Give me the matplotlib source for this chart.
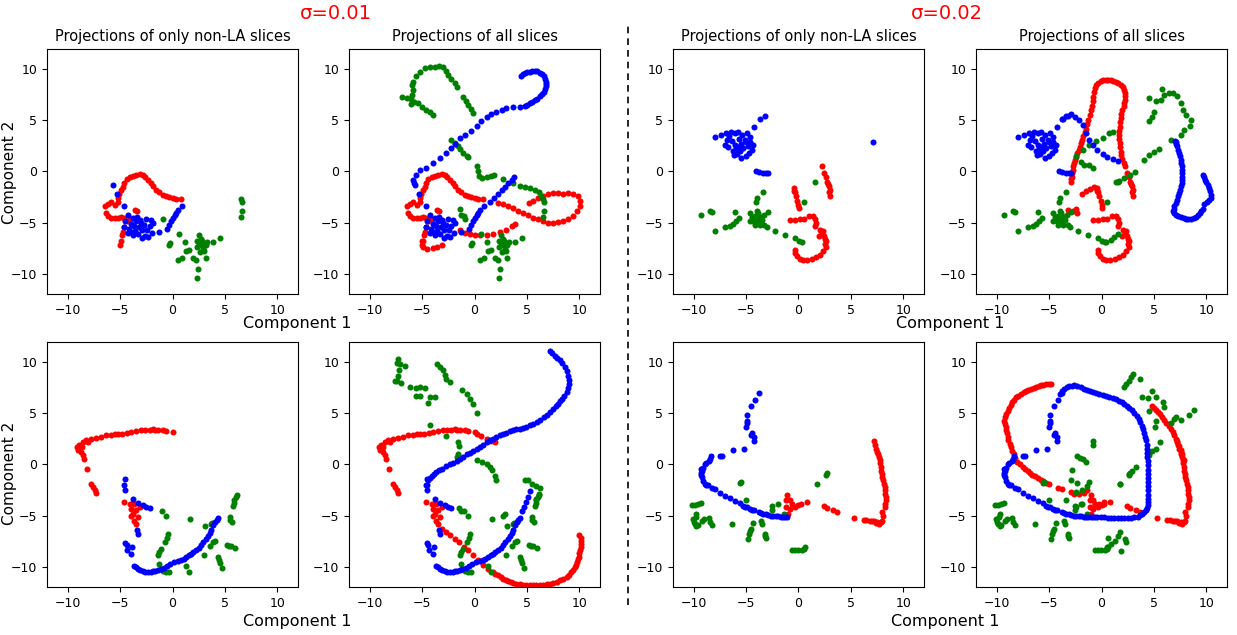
import numpy as np
import matplotlib
matplotlib.use('Agg')
import matplotlib.pyplot as plt
from matplotlib.lines import Line2D

# ---- sigma = 0.01, top row : non-LA slices ----
a_red = [(-5.0,-7.2),(-4.9,-6.8),(-4.8,-6.2),(-4.75,-5.9),(-4.6,-5.4),(-4.4,-4.9),(-4.1,-4.7),(-4.6,-4.6),
         (-4.9,-4.5),(-5.2,-4.6),(-5.5,-4.6),(-5.9,-4.6),(-6.2,-4.4),(-6.4,-4.1),(-6.5,-3.4),(-6.2,-3.2),
         (-5.9,-3.0),(-5.5,-3.3),(-5.2,-3.0),(-5.2,-2.6),(-5.1,-2.2),(-4.9,-1.8),(-4.75,-1.5),(-4.6,-1.1),
         (-4.4,-0.75),(-4.1,-0.55),(-3.8,-0.4),(-3.5,-0.3),(-3.15,-0.25),(-2.85,-0.35),(-2.6,-0.55),
         (-2.35,-0.8),(-2.1,-1.15),(-1.9,-1.45),(-1.55,-1.8),(-1.25,-2.05),(-0.9,-2.3),(-0.6,-2.45),
         (-0.3,-2.5),(0.0,-2.6),(0.35,-2.65),(0.8,-2.7),(-3.6,-3.8),(-3.4,-3.9)]
a_blue = [(-5.65,-1.3),(-5.3,-2.2),(-4.6,-3.4),(-4.3,-4.25),(-4.6,-5.4),(-4.5,-4.9),(-4.2,-5.6),(-4.0,-5.1),
          (-3.8,-4.6),(-3.7,-5.3),(-3.6,-5.8),(-3.5,-4.9),(-3.3,-6.1),(-3.2,-5.4),(-3.1,-4.8),(-2.9,-5.7),
          (-2.7,-5.2),(-2.6,-6.3),(-2.55,-4.7),(-2.4,-5.7),(-2.2,-5.3),(-2.1,-4.8),(-2.0,-6.0),(-1.85,-5.0),
          (-4.3,-6.0),(-3.8,-6.2),(-3.4,-4.5),(-2.9,-6.5),(-2.3,-6.4),(-3.0,-5.0),(-4.0,-5.9),
          (-1.25,-5.9),(-0.5,-5.65),(-0.3,-5.2),(-0.15,-4.9),(0.05,-4.55),(0.2,-4.25),(0.35,-4.1),
          (0.5,-3.75),(0.9,-3.4)]
a_green = [(-0.9,-4.65),(-0.3,-7.2),(-0.25,-7.0),(0.65,-6.1),(0.5,-8.65),(0.9,-8.5),(1.2,-6.95),(1.3,-7.8),
           (1.6,-7.65),(1.95,-8.5),(2.2,-8.7),(2.45,-9.6),(2.35,-10.4),(2.5,-6.2),(2.3,-6.85),(2.55,-7.0),
           (2.7,-7.2),(2.9,-7.6),(3.0,-7.75),(3.15,-7.2),(3.3,-6.95),(2.7,-6.6),(2.35,-7.4),(2.8,-6.8),
           (3.15,-8.5),(3.85,-6.95),(4.5,-6.5),(6.55,-2.65),(6.65,-2.95),(6.6,-3.85),(6.5,-4.5),
           (2.6,-7.9),(2.9,-7.0)]

# ---- sigma = 0.01, top row : extra LA slices ----
b_red = [(-1.4,-5.7),(-0.9,-6.05),(-0.45,-6.1),(0.05,-6.2),(0.5,-6.2),(1.15,-6.2),(1.8,-6.1),(2.4,-5.95),
         (3.05,-5.7),(3.55,-5.3),(3.85,-5.1),(-5.05,-6.85),(-4.9,-7.35),(-4.5,-7.55),(-4.0,-7.5),
         (-3.55,-7.4),(-3.15,-7.25),(2.25,-3.05),(2.75,-3.15),(3.2,-3.35),(3.7,-3.6),(4.15,-3.85),
         (4.65,-4.05),(5.1,-4.3),(5.6,-4.55),(6.1,-4.7),(6.55,-4.9),(7.05,-5.0),(7.5,-5.0),(8.0,-4.95),
         (8.45,-4.9),(8.95,-4.65),(9.45,-4.35),(9.8,-3.9),(10.05,-3.4),(10.1,-2.9),(9.9,-2.45),
         (9.45,-2.2),(8.95,-2.1),(8.45,-2.2),(8.0,-2.1),(7.5,-2.1),(7.05,-2.2),(6.55,-2.4),(6.1,-2.6),
         (5.6,-2.85),(5.2,-3.05)]
b_blue = [(-5.8,-1.15),(-5.85,-0.8),(-5.6,-0.35),(-5.2,0.1),(-4.65,0.35),(-3.95,0.8),(-3.3,1.3),
          (-2.75,1.8),(-2.25,2.3),(-1.9,2.7),(-1.4,3.25),(-0.9,3.6),(-0.35,4.0),(0.2,4.45),(0.65,4.9),
          (1.15,5.3),(1.6,5.6),(2.1,5.85),(2.6,6.05),(3.05,6.2),(3.7,6.35),(4.35,6.35),(4.8,6.4),
          (5.0,6.5),(5.3,6.7),(5.5,6.8),(5.75,6.95),(6.0,7.1),(6.25,7.35),(6.45,7.55),(6.6,7.8),
          (6.75,8.1),(6.8,8.35),(6.85,8.6),(6.8,8.8),(6.75,9.05),(6.6,9.3),(6.45,9.5),(6.25,9.65),
          (6.0,9.8),(5.75,9.85),(5.5,9.85),(5.3,9.75),(5.05,9.7),(4.8,9.6),(4.6,9.5),(4.45,9.35),
          (1.45,-2.95),(1.85,-2.6),(2.25,-2.2),(2.6,-1.85),(2.9,-1.55),(3.2,-1.15),(3.55,-0.8),(3.75,-0.55)]
b_green = [(-6.9,7.25),(-6.5,7.15),(-6.1,7.05),(-6.1,6.6),(-5.8,6.8),(-5.4,6.7),(-5.0,6.35),(-4.65,6.05),
           (-4.25,5.85),(-4.0,5.55),(-6.0,7.5),(-5.85,8.0),(-6.0,8.45),(-5.85,8.8),(-5.55,9.3),(-5.2,9.75),
           (-4.75,10.1),(-4.25,10.2),(-3.8,10.25),(-3.4,10.3),(-3.0,10.25),(-2.75,9.85),(-2.5,9.45),
           (-2.2,9.1),(-1.9,8.65),(-1.65,8.25),(-1.1,7.25),(-0.85,6.85),(-0.6,6.5),(-0.35,6.1),(-0.15,5.75),
           (-2.2,3.1),(-1.9,2.75),(-1.55,2.45),(-1.35,2.2),(-1.1,1.85),(-0.75,1.55),(-0.6,1.4),(0.2,0.5),
           (0.35,0.0),(0.45,-0.4),(0.75,-0.65),(1.15,-0.55),(1.6,-0.4),(1.85,-0.35),(2.75,-0.75),
           (3.7,-1.15),(4.35,-1.4),(4.8,-1.55),(5.3,-1.65),(5.75,-1.8),(6.2,-2.05),(6.4,-2.45),
           (-1.4,-3.7),(-1.25,-4.25),(-1.0,-4.4)]

# ---- sigma = 0.02, top row : non-LA slices ----
c_red = [(2.2,0.5),(2.45,-0.15),(2.6,-0.55),(2.75,-1.0),(2.9,-1.4),(3.0,-1.8),(3.05,-2.4),(2.85,-1.2),
         (2.95,-2.0),(-0.4,-1.65),(-0.35,-2.05),(-0.2,-2.45),(-0.1,-2.85),(0.0,-3.25),(0.05,-3.6),
         (-0.4,-1.9),(-0.85,-4.8),(-0.35,-4.8),(0.15,-4.7),(0.55,-4.65),(1.0,-4.35),(1.4,-4.35),
         (1.55,-4.7),(1.7,-5.0),(1.55,-5.35),(2.05,-5.7),(2.2,-6.0),(2.45,-6.35),(2.6,-6.85),(2.6,-7.35),
         (2.35,-7.8),(2.05,-8.15),(1.7,-8.4),(1.3,-8.55),(0.85,-8.7),(0.45,-8.7),(0.15,-8.55),
         (-0.15,-8.3),(-0.3,-8.0),(-0.35,-7.65),(1.95,-6.35),(2.3,-5.8),(2.5,-6.6),(2.55,-7.1)]
c_blue = [(-8.0,3.35),(-7.45,3.55),(-6.9,3.75),(-6.45,3.9),(-6.05,3.8),(-5.75,3.85),(-5.4,3.6),
          (-4.95,3.75),(-4.65,3.35),(-4.25,4.35),(-3.65,5.1),(-3.2,5.45),(-4.35,2.6),(-4.45,2.1),
          (-4.7,1.8),(-5.0,1.55),(-5.45,1.3),(-5.9,1.7),(-6.3,2.0),(-6.7,2.4),(-7.05,2.6),(-6.8,3.1),
          (-6.4,2.95),(-6.1,2.6),(-5.8,2.4),(-5.5,2.7),(-5.15,3.1),(-4.85,2.5),(-6.0,2.2),(-5.6,2.0),
          (-5.3,2.3),(-5.7,3.2),(-6.6,3.5),(-5.0,2.9),(-6.2,1.6),(-4.6,2.9),(7.15,2.85),
          (-4.1,0.0),(-3.8,-0.1),(-3.4,-0.15),(-3.1,-0.15),(-2.9,-0.15)]
c_green = [(-9.3,-4.25),(-8.45,-3.9),(-8.25,-3.95),(-8.0,-5.85),(-7.05,-5.45),(-6.55,-5.3),(-6.25,-5.1),
           (-6.0,-4.9),(-5.7,-4.55),(-6.1,-3.95),(-4.1,-2.95),(-4.0,-2.6),(-3.4,-2.05),(1.55,-1.0),
           (0.55,-2.95),(-0.35,-6.5),(0.05,-6.8),(0.3,-6.95),(-1.3,-6.2),(-2.25,-5.8),(-3.0,-5.45),
           (-2.95,-3.95),(-4.6,-4.1),(-4.45,-4.5),(-4.3,-4.9),(-4.15,-4.4),(-4.0,-4.8),(-3.85,-4.05),
           (-3.8,-5.05),(-3.6,-4.45),(-3.45,-4.75),(-3.3,-4.3),(-3.25,-5.2),(-3.7,-5.2),(-4.2,-5.2),
           (-4.6,-4.85),(-4.0,-3.9),(-3.9,-4.6)]

# ---- sigma = 0.02, top row : extra LA slices ----
d_red = [(-2.95,-1.05),(-2.9,-0.75),(-2.85,-0.5),(-2.8,-0.2),(-2.75,0.15),(-2.7,0.5),(-2.6,0.8),(-2.5,1.1),
         (-2.45,1.45),(-2.35,1.8),(-2.2,2.1),(-2.05,2.4),(-1.95,2.75),(-1.85,3.1),(-1.75,3.5),(-1.6,3.85),
         (-1.5,4.2),(-1.35,4.6),(-1.25,5.05),(-1.1,5.5),(-1.0,6.0),(-0.95,6.4),(-0.85,6.85),(-0.8,7.3),
         (-0.7,7.8),(-0.6,8.2),(-0.5,8.45),(-0.3,8.7),(-0.05,8.9),(0.15,8.95),(0.4,9.0),(0.65,9.0),
         (0.9,8.95),(1.1,8.9),(1.35,8.8),(1.6,8.65),(1.85,8.45),(2.05,8.25),(2.15,8.0),(2.25,7.7),
         (2.25,7.35),(2.2,7.0),(2.15,6.7),(2.1,6.4),(2.0,6.05),(1.9,5.6),(1.85,5.2),(1.8,4.8),(1.75,4.4),
         (1.7,4.0),(1.7,3.6),(1.7,3.2),(1.75,2.75),(1.8,2.35),(1.85,1.95),(1.9,1.6),(2.0,1.2),(2.1,0.85),
         (-1.9,-2.2),(-1.5,-1.95),(-1.1,-1.75),(-0.7,-1.5),(-3.25,-3.75),(-2.45,-3.7),(-2.3,-4.05),
         (-2.75,-3.9)]
d_blue = [(-3.75,5.1),(-3.35,5.45),(-2.95,5.65),(-2.5,5.35),(-2.15,5.05),(-1.8,4.55),(-1.5,3.8),(-1.2,3.1),
          (-0.85,2.6),(-0.4,2.1),(0.1,1.75),(0.55,1.45),(1.05,1.2),(1.55,1.0),
          (7.05,2.95),(7.15,2.7),(7.25,2.45),(7.35,2.1),(7.4,1.8),(7.5,1.5),(7.55,1.15),(7.6,0.8),
          (7.65,0.5),(7.7,0.15),(7.7,-0.15),(7.7,-0.5),(7.7,-0.8),(7.65,-1.1),(7.6,-1.45),(7.5,-1.8),
          (7.4,-2.1),(7.35,-2.45),(7.25,-2.75),(7.1,-3.1),(6.95,-3.4),(6.9,-3.65),(6.85,-3.9),(6.95,-4.1),
          (7.1,-4.25),(7.35,-4.4),(7.6,-4.5),(7.85,-4.6),(8.05,-4.65),(8.3,-4.7),(8.55,-4.65),(8.8,-4.55),
          (9.0,-4.45),(9.2,-4.25),(9.4,-4.05),(9.5,-3.9),(9.65,-3.7),(9.8,-3.15),(10.05,-2.95),
          (10.3,-2.8),(10.45,-2.6),(10.45,-2.3),(10.35,-1.95),(10.25,-1.6),(10.15,-1.3),(10.0,-1.05),
          (9.9,-0.8),(9.8,-0.55),(9.65,-0.35)]
d_green = [(4.55,7.15),(5.2,6.85),(5.65,7.0),(6.0,7.5),(5.75,8.05),(6.45,7.65),(6.85,7.65),(7.25,7.35),
           (7.6,6.7),(7.8,6.05),(8.1,5.55),(8.55,5.05),(8.45,4.45),(7.9,4.05),(7.6,3.6),(6.6,3.1),
           (5.5,2.2),(5.05,1.95),(4.55,1.65),(4.1,1.15),(3.2,-0.1),(2.75,-0.35),(2.15,-0.65),(1.7,-0.9),
           (1.35,-1.0),(4.85,5.35),(4.55,4.9),(5.0,5.85),(1.05,3.9),(0.75,3.75),(0.1,3.25),(-0.55,2.95),
           (-1.2,2.6),(-1.8,2.1),(-2.45,1.55),(-1.95,0.9),(-1.65,0.65),(-1.2,0.65),(-0.85,0.35),
           (0.4,-6.95),(0.9,-6.7),(1.2,-6.4),(1.55,-6.1)]

# ---- sigma = 0.01, bottom row : non-LA slices ----
e_red = [(0.0,3.15),(-0.6,3.25),(-0.9,3.35),(-1.4,3.4),(-1.65,3.4),(-1.9,3.45),(-2.2,3.4),(-2.6,3.4),
         (-3.0,3.35),(-3.45,3.25),(-3.95,3.15),(-4.35,3.1),(-4.8,3.0),(-5.2,2.95),(-5.5,2.95),(-5.85,2.9),
         (-6.35,2.85),(-6.8,2.7),(-7.3,2.6),(-7.75,2.5),(-8.1,2.2),(-8.3,2.4),(-8.55,2.2),(-8.95,1.95),
         (-9.15,1.75),(-8.7,1.7),(-8.9,1.55),(-9.0,1.4),(-8.75,1.2),(-8.55,0.9),(-8.45,0.5),(-8.15,-0.45),
         (-7.75,-1.9),(-7.6,-2.2),(-7.45,-2.55),(-7.3,-2.8),
         (-4.6,-3.7),(-4.1,-3.85),(-3.65,-3.85),(-3.95,-4.35),(-3.45,-4.45),(-3.15,-4.2),(-3.8,-4.85),
         (-3.3,-5.1),(-3.65,-5.5),(-3.95,-5.0),(-3.45,-5.8)]
e_blue = [(-4.5,-1.45),(-4.6,-2.05),(-4.55,-2.55),(-3.8,-3.35),(-3.3,-3.75),(-2.85,-4.0),(-2.5,-4.2),
          (-2.2,-4.25),(-3.4,-6.45),(-3.3,-6.8),(-4.5,-7.7),(-4.4,-7.9),(-4.35,-8.35),(-3.85,-8.05),
          (-3.95,-8.75),(-3.65,-9.9),(-3.5,-10.05),(-3.3,-10.2),(-3.1,-10.35),(-2.85,-10.45),(-2.6,-10.5),
          (-2.35,-10.55),(-2.1,-10.5),(-1.9,-10.45),(-1.65,-10.4),(-1.4,-10.3),(-1.15,-10.25),
          (-0.85,-10.15),(-0.5,-9.9),(-0.2,-9.7),(0.15,-9.6),(0.5,-9.5),(0.8,-9.35),(1.05,-9.25),
          (1.3,-9.1),(1.55,-8.9),(1.8,-8.75),(2.0,-8.6),(2.25,-8.4),(2.5,-8.15),(2.75,-7.9),(2.95,-7.6),
          (3.2,-7.3),(3.4,-7.05),(3.55,-6.75),(3.7,-6.45),(3.9,-5.95),(4.1,-5.65),(4.2,-5.45),(4.35,-5.25)]
e_green = [(-1.0,-4.55),(-0.6,-5.05),(-0.4,-6.85),(-0.5,-7.2),(-0.75,-7.6),(-1.1,-8.25),(-1.3,-8.6),
           (-1.4,-8.9),(-1.3,-9.7),(-0.9,-10.45),(-0.6,-10.5),(-0.35,-10.55),(1.3,-9.9),(1.55,-10.55),
           (1.7,-5.3),(3.1,-6.05),(3.05,-8.9),(3.55,-7.95),(3.9,-7.6),(4.1,-7.5),(3.65,-5.85),(3.8,-5.7),
           (4.35,-9.05),(4.45,-9.35),(4.55,-9.65),(4.75,-10.15),(5.2,-7.85),(5.4,-7.95),(5.6,-8.0),
           (6.0,-8.2),(5.45,-5.15),(5.5,-5.4),(5.7,-5.65),(5.75,-4.1),(5.85,-3.75),(5.9,-3.45),
           (6.05,-3.2),(6.15,-2.95)]

# ---- sigma = 0.01, bottom row : extra LA slices ----
f_red = [(-3.15,-6.3),(-2.75,-6.6),(-2.35,-6.95),(-1.9,-7.3),(-1.45,-7.6),(-1.0,-8.1),(-0.6,-8.4),
         (-0.15,-8.9),(0.35,-9.4),(0.85,-9.8),(1.3,-10.2),(1.8,-10.55),(2.0,-10.7),(2.25,-10.85),
         (2.5,-11.0),(2.75,-11.2),(3.0,-11.3),(3.2,-11.4),(3.45,-11.5),(3.7,-11.6),(4.0,-11.7),
         (4.35,-11.75),(4.65,-11.8),(4.95,-11.85),(5.3,-11.85),(5.6,-11.85),(5.9,-11.85),(6.25,-11.85),
         (6.55,-11.8),(6.9,-11.75),(7.2,-11.7),(7.5,-11.6),(7.85,-11.5),(8.15,-11.35),(8.5,-11.2),
         (8.8,-11.05),(9.05,-10.8),(9.25,-10.55),(9.45,-10.3),(9.6,-10.05),(9.7,-9.8),(9.8,-9.55),
         (9.9,-9.3),(9.95,-9.05),(10.0,-8.7),(10.05,-8.4),(10.15,-8.1),(10.2,-7.8),(10.2,-7.5),
         (10.15,-7.2),(10.0,-6.9),(0.2,2.95),(0.65,2.75),(1.15,2.5),(1.6,2.3),(1.95,2.2)]
f_blue = [(-4.5,-2.05),(-4.45,-1.5),(-4.3,-1.3),(-4.1,-1.1),(-3.9,-0.9),(-3.65,-0.75),(-3.4,-0.55),
          (-3.15,-0.4),(-2.7,-0.2),(-2.35,0.0),(-2.05,0.15),(-1.7,0.35),(-1.4,0.55),(-1.1,0.75),
          (-0.75,1.0),(-0.45,1.15),(-0.15,1.35),(0.2,1.55),(0.5,1.75),(0.8,1.95),(1.15,2.2),(1.5,2.35),
          (1.8,2.5),(2.1,2.7),(2.4,2.85),(2.75,3.0),(3.05,3.1),(3.4,3.25),(3.7,3.35),(4.0,3.45),(4.35,3.5),
          (4.65,3.6),(4.95,3.7),(5.3,3.85),(5.6,4.0),(5.95,4.15),(6.25,4.35),(6.6,4.6),(6.9,4.85),
          (7.2,5.15),(7.5,5.45),(7.75,5.7),(8.0,5.95),(8.2,6.2),(8.4,6.45),(8.6,6.75),(8.8,7.1),
          (8.95,7.5),(9.05,7.9),(9.05,8.3),(8.95,8.7),(8.8,9.15),(8.65,9.55),(8.4,9.9),(8.15,10.2),
          (7.9,10.45),(7.7,10.65),(7.45,10.9),(7.25,11.1),
          (4.5,-4.6),(4.7,-4.2),(4.9,-3.7),(5.15,-3.2),(5.35,-2.6)]
f_green = [(-7.3,10.35),(-7.45,9.9),(-7.15,9.8),(-6.65,9.6),(-7.2,9.2),(-7.3,8.7),(-7.6,8.2),(-7.45,8.15),
           (-7.0,7.95),(-6.2,7.55),(-5.6,7.5),(-5.2,7.55),(-4.75,7.5),(-5.55,6.75),(-5.2,6.75),(-4.45,6.05),
           (-4.25,6.65),(-3.8,6.6),(-3.55,9.8),(-3.3,9.55),(-3.0,9.2),(-2.85,8.8),(-2.7,8.4),(-2.35,8.1),
           (-1.15,7.3),(-0.75,6.9),(-0.45,6.45),(-0.15,5.95),(0.2,5.05),(-4.25,3.9),(-2.7,2.75),
           (-1.55,2.2),(-1.45,1.85),(-1.7,0.7),(-1.6,1.0),(0.2,0.45),(0.75,0.25),(1.15,0.0),(1.45,-0.25),
           (1.7,-0.5),(1.95,-1.1),(2.05,-1.5),(4.8,-1.5),(5.1,-1.55),(5.45,-1.9),(5.9,-2.15),(6.25,-2.3),
           (6.2,-2.85),(5.9,-3.35),(2.75,-5.0),(2.9,-4.85),(-1.45,-4.25),(-1.25,-4.55)]

# ---- sigma = 0.02, bottom row : non-LA slices ----
g_red = [(-1.05,-2.95),(-1.15,-3.5),(-0.85,-3.5),(-0.65,-3.85),(-1.15,-4.2),(-0.85,-4.35),(-0.35,-4.2),
         (0.0,-4.0),(0.2,-3.85),(0.85,-3.7),(-1.0,-4.85),(2.45,-4.1),(2.75,-4.25),(3.3,-4.45),(3.65,-4.65),
         (5.3,-5.25),(6.25,-5.4),(6.5,-5.45),(6.8,-5.5),(7.05,-5.5),(7.25,-5.55),(7.45,-5.75),(7.55,-5.6),
         (7.7,-5.8),(7.85,-5.65),(7.95,-5.5),(8.1,-5.0),(7.95,-4.65),(8.25,-4.2),(8.3,-3.85),(8.35,-3.5),
         (8.35,-3.2),(8.3,-2.85),(8.3,-2.5),(8.25,-2.2),(8.2,-1.9),(8.1,-1.55),(8.0,-1.2),(7.95,-0.9),
         (7.9,-0.6),(7.85,-0.25),(7.8,0.1),(7.75,0.4),(7.7,0.7),(7.6,1.0),(7.55,1.25),(7.45,1.55),
         (7.35,1.9),(7.2,2.3)]
g_blue = [(-3.8,7.0),(-4.15,6.35),(-4.5,5.75),(-4.9,4.85),(-4.95,4.3),(-4.95,4.1),(-5.05,3.7),(-4.45,3.05),
          (-4.5,2.9),(-4.25,2.7),(-4.25,2.3),(-5.2,1.55),(-6.3,1.45),(-7.5,0.8),(-7.35,0.8),(-8.4,0.8),
          (-8.5,0.55),(-8.6,0.35),(-8.8,0.15),(-8.9,0.0),(-9.1,-0.3),(-9.3,-0.45),(-9.25,-0.6),
          (-9.35,-0.85),(-9.35,-1.05),(-9.25,-1.25),(-9.15,-1.65),(-8.95,-1.9),(-8.8,-2.0),(-8.65,-2.05),
          (-8.25,-2.3),(-8.0,-2.45),(-7.5,-2.8),(-7.05,-3.1),(-6.55,-3.3),(-6.1,-3.6),(-5.6,-3.8),
          (-5.3,-4.05),(-5.1,-4.15),(-4.95,-4.2),(-4.65,-4.35),(-4.45,-4.45),(-4.25,-4.5),(-3.8,-4.65),
          (-3.6,-4.75),(-3.4,-4.85),(-3.15,-4.9),(-2.9,-4.95),(-2.65,-5.0),(-2.4,-5.0),(-2.15,-5.05),
          (-1.95,-5.05),(-1.7,-5.1),(-1.45,-5.1),(-1.25,-5.1),(-1.05,-5.1)]
g_green = [(-10.2,-4.0),(-9.9,-4.0),(-9.6,-3.9),(-9.35,-3.8),(-9.75,-4.85),(-9.8,-5.1),(-10.05,-5.3),
           (-10.0,-5.6),(-9.9,-5.8),(-9.75,-6.0),(-9.6,-5.95),(-9.25,-5.5),(-9.0,-5.3),(-8.55,-5.2),
           (-8.45,-5.65),(-8.3,-5.95),(-6.4,-5.85),(-5.55,-1.85),(-5.5,-1.75),(-5.05,-3.5),(-4.35,-5.75),
           (-4.5,-6.3),(-4.65,-6.55),(-4.75,-6.8),(-4.85,-7.3),(-3.6,-5.55),(-3.45,-5.85),(-3.2,-6.8),
           (-3.2,-7.0),(-3.15,-7.2),(-2.5,-4.1),(-2.5,-4.45),(-1.95,-3.9),(-1.4,-4.85),(-0.65,-8.4),
           (-0.35,-8.4),(-0.05,-8.4),(0.3,-8.35),(0.55,-8.25),(0.6,-8.1),(1.8,-1.95),(2.65,-1.0),(2.75,-0.85)]

# ---- sigma = 0.02, bottom row : extra LA slices ----
h_red = [(-4.85,7.9),(-5.05,7.9),(-5.3,7.85),(-5.55,7.8),(-5.8,7.75),(-6.0,7.65),(-6.25,7.55),(-6.5,7.5),
         (-6.75,7.4),(-7.0,7.3),(-7.25,7.2),(-7.45,7.05),(-7.7,6.9),(-7.95,6.75),(-8.2,6.6),(-8.4,6.35),
         (-8.55,6.1),(-8.7,5.85),(-8.8,5.55),(-8.95,5.25),(-9.1,4.95),(-9.2,4.6),(-9.3,4.3),(-9.25,4.0),
         (-9.15,3.7),(-9.1,3.35),(-9.05,3.05),(-8.95,2.7),(-8.9,2.4),(-8.75,2.05),(-8.65,1.7),(-8.55,1.35),
         (-8.4,1.0),(-8.25,0.6),(-8.05,0.25),(-7.8,0.0),(-7.55,-0.25),(-7.3,-0.45),(-7.05,-0.65),
         (-6.85,-0.8),(-6.6,-1.0),(-6.35,-1.15),(-6.1,-1.3),(-5.8,-1.5),(-5.55,-1.65),(-5.3,-1.8),
         (-5.0,-1.95),(-4.2,-2.3),(-3.75,-2.45),(-2.95,-2.7),(-2.6,-2.85),(-2.15,-2.85),(-1.65,-2.8),
         (-1.35,-2.55),(-0.6,-3.9),(-0.2,-3.9),(0.25,-3.7),
         (4.8,5.7),(5.0,5.5),(5.2,5.35),(5.4,5.15),(5.55,4.95),(5.8,4.65),(6.0,4.35),(6.2,4.1),(6.4,3.8),
         (6.6,3.5),(6.8,3.15),(6.95,2.85),(7.1,2.5),(7.25,2.2),(7.4,1.85),(7.55,1.45),(7.7,1.05),(7.9,0.4)]
h_blue = [(-4.0,6.9),(-3.8,7.2),(-3.55,7.4),(-3.3,7.55),(-3.1,7.65),(-2.85,7.7),(-2.6,7.75),(-2.3,7.65),
          (-1.95,7.55),(-1.65,7.4),(-1.35,7.25),(-1.1,7.15),(-0.85,7.1),(-0.5,6.95),(-0.2,6.85),(0.1,6.8),
          (0.4,6.75),(0.75,6.65),(1.05,6.55),(1.4,6.4),(1.7,6.25),(1.95,6.1),(2.15,5.95),(2.4,5.75),
          (2.65,5.55),(2.9,5.3),(3.1,5.0),(3.35,4.75),(3.55,4.45),(3.7,4.15),(3.85,3.8),(4.0,3.45),
          (4.1,3.05),(4.2,2.7),(4.25,2.35),(4.3,1.95),(4.3,1.55),(4.35,1.1),(4.35,0.7),(4.4,0.3),
          (4.4,-0.1),(4.45,-0.5),(4.45,-0.9),(4.45,-1.3),(4.45,-1.75),(4.45,-2.15),(4.45,-2.55),
          (4.45,-2.95),(4.45,-3.35),(4.45,-3.7),(4.4,-4.0),(4.35,-4.25),(4.25,-4.5),(4.1,-4.7),
          (3.9,-4.85),(3.7,-4.95),(3.45,-5.1),(3.1,-5.15),(2.8,-5.2),(2.5,-5.25),(2.15,-5.25),
          (1.85,-5.25),(1.55,-5.25),(1.2,-5.2),(0.9,-5.2),(0.6,-5.2),(0.25,-5.15),(-0.1,-5.15),
          (-0.4,-5.15),(-0.6,-5.1),(-0.85,-5.1)]
h_green = [(2.15,7.55),(2.3,7.9),(2.6,8.2),(2.8,8.55),(3.05,8.85),(3.65,8.4),(3.85,6.6),(4.4,6.55),
           (4.85,7.2),(5.2,6.6),(5.9,6.1),(6.0,5.6),(4.55,5.2),(5.25,4.25),(5.15,3.65),(6.6,4.05),
           (6.95,4.45),(7.15,4.6),(7.6,4.35),(8.85,5.35),(8.4,4.8),(5.55,2.2),(5.2,1.55),(4.8,1.3),
           (4.55,0.9),(3.3,-0.25),(2.95,-0.6),(2.65,-0.9),(1.75,-1.95),(-0.8,2.3),(-0.85,1.95),
           (-2.3,0.8),(-2.05,0.65),(-1.8,0.55),(-1.45,0.25),(-2.85,-0.5),(-2.95,-1.55),(-2.3,-1.85),
           (-1.2,-1.75),(-1.35,-2.1),(-1.9,-2.5),(-2.45,-2.7),(-3.4,-3.5),(-1.9,-3.9),(-2.45,-4.2),
           (1.8,-6.6),(1.6,-7.05),(1.3,-7.5),(0.9,-7.75),(0.65,-7.2),(0.5,-8.1),(1.85,-8.5),(2.2,-7.3),
           (2.35,-7.6)]

titles = ['Projections of only non-LA slices', 'Projections of all slices']
sigmas = ['\u03c3=0.01', '\u03c3=0.02']

fig = plt.figure(figsize=(12.37, 6.35), dpi=100)

lefts = [0.038, 0.2821, 0.544, 0.789]
bottoms = [0.537, 0.0756]
w, h = 0.203, 0.386

# (non-LA, LA extras) per block: row, half
blocks = {
    (0, 0): ((a_red, a_green, a_blue), (b_red, b_green, b_blue)),
    (0, 1): ((c_red, c_green, c_blue), (d_red, d_green, d_blue)),
    (1, 0): ((e_red, e_green, e_blue), (f_red, f_green, f_blue)),
    (1, 1): ((g_red, g_green, g_blue), (h_red, h_green, h_blue)),
}
colors = ['red', 'green', 'blue']


def draw(ax, series):
    for col, pts in zip(colors, series):
        arr = np.array(pts)
        ax.scatter(arr[:, 0], arr[:, 1], s=19, c=col, linewidths=0)
    ax.set_xlim(-12, 12)
    ax.set_ylim(-12, 12)
    ax.set_xticks([-10, -5, 0, 5, 10])
    ax.set_yticks([-10, -5, 0, 5, 10])
    ax.tick_params(labelsize=9)


for (row, half), (base, extra) in blocks.items():
    ax1 = fig.add_axes([lefts[2 * half], bottoms[row], w, h])
    draw(ax1, base)
    ax2 = fig.add_axes([lefts[2 * half + 1], bottoms[row], w, h])
    draw(ax2, [b + e for b, e in zip(base, extra)])
    if row == 0:
        ax1.set_title(titles[0], fontsize=10.5)
        ax2.set_title(titles[1], fontsize=10.5)

fig.text(0.2716, 0.978, sigmas[0], color='red', fontsize=14, ha='center', va='center')
fig.text(0.7656, 0.978, sigmas[1], color='red', fontsize=14, ha='center', va='center')

fig.text(0.240, 0.491, 'Component 1', fontsize=11.5, ha='center', va='center')
fig.text(0.768, 0.491, 'Component 1', fontsize=11.5, ha='center', va='center')
fig.text(0.240, 0.0205, 'Component 1', fontsize=11.5, ha='center', va='center')
fig.text(0.764, 0.0205, 'Component 1', fontsize=11.5, ha='center', va='center')
fig.text(0.008, 0.728, 'Component 2', fontsize=11, ha='center', va='center', rotation=90)
fig.text(0.008, 0.255, 'Component 2', fontsize=11, ha='center', va='center', rotation=90)

fig.add_artist(Line2D([0.5077, 0.5077], [0.047, 0.961], color='black', lw=1.2,
                      linestyle=(0, (4, 3)), transform=fig.transFigure))

fig.savefig('out.png', dpi=100)
